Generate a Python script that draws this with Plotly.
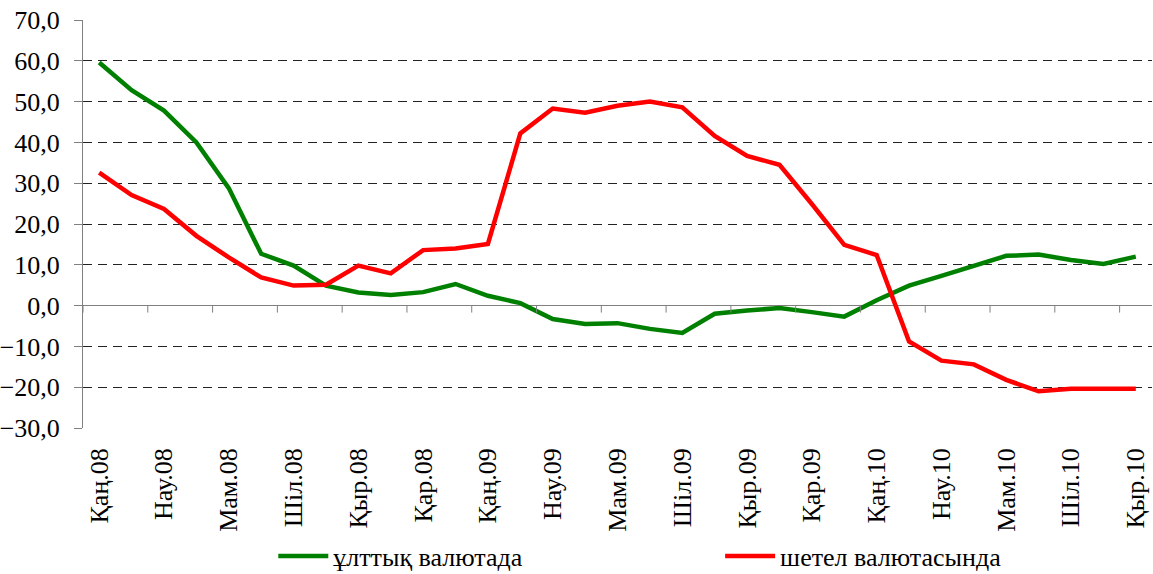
import plotly.graph_objects as go

months = ["Қаң", "Ақп", "Нау", "Сәу", "Мам", "Мау", "Шіл", "Там", "Қыр", "Қаз", "Қар", "Жел"]
categories = []
for yr in ["08", "09", "10"]:
    for m in months:
        categories.append(f"{m}.{yr}")
categories = categories[:33]

national = [59.6, 52.8, 47.8, 40.0, 28.8, 12.7, 9.8, 4.9, 3.2, 2.6, 3.3, 5.3,
            2.4, 0.6, -3.3, -4.5, -4.3, -5.7, -6.7, -2.0, -1.2, -0.6, -1.6, -2.7,
            1.3, 4.9, 7.3, 9.8, 12.2, 12.5, 11.2, 10.2, 12.0]
foreign = [32.6, 27.1, 23.7, 17.1, 11.8, 6.9, 4.9, 5.1, 9.8, 7.9, 13.6, 14.0,
           15.1, 42.2, 48.3, 47.3, 49.0, 50.0, 48.6, 41.6, 36.7, 34.5, 24.9, 14.9,
           12.4, -8.8, -13.5, -14.4, -18.2, -21.0, -20.4, -20.3, -20.4]
series_names = ["ұлттық валютада", "шетел валютасында"]
series_colors = ["#008000", "#FF0000"]

x_idx = list(range(len(categories)))
tick_idx = x_idx[::2]
tick_text = [categories[i] for i in tick_idx]

FONT = "'Liberation Serif', 'Times New Roman', 'DejaVu Serif', serif"
fig = go.Figure()
for k, (name, vals, col) in enumerate(zip(series_names, [national, foreign], series_colors)):
    fig.add_trace(go.Scatter(x=x_idx, y=vals, mode="lines", name=name,
                             line=dict(color=col, width=4.5),
                             legend="legend" if k == 0 else "legend2"))

# tick marks on the zero line (category boundaries)
for b in range(0, len(categories) + 1, 2):
    fig.add_shape(type="line", xref="x", yref="y", x0=b - 0.5, x1=b - 0.5,
                  ysizemode="pixel", yanchor=0, y0=0, y1=-7,
                  line=dict(color="#808080", width=1))

leg_common = dict(orientation="h", xanchor="left", y=-0.314, yanchor="middle",
                  itemwidth=50,
                  font=dict(family=FONT, size=26, color="black"),
                  bgcolor="rgba(0,0,0,0)")
fig.update_layout(
    width=1153, height=574,
    margin=dict(l=83, r=1, t=20, b=146, autoexpand=False),
    paper_bgcolor="white", plot_bgcolor="white",
    separators=", ",
    font=dict(family=FONT, size=26, color="black"),
    showlegend=True,
    legend=dict(x=0.178, **leg_common),
    legend2=dict(x=0.596, **leg_common),
    xaxis=dict(range=[-0.5, len(categories) - 0.5], tickvals=tick_idx, ticktext=tick_text,
               tickangle=-90, showgrid=False, zeroline=False, showline=False,
               ticks="", ticklabelstandoff=14, automargin=False,
               tickfont=dict(family=FONT, size=26)),
    yaxis=dict(range=[-30, 70], dtick=10, tickformat=".1f", showgrid=True,
               gridcolor="#222222", griddash="9px,6px", gridwidth=1,
               zeroline=True, zerolinecolor="#808080", zerolinewidth=1,
               showline=True, linecolor="#808080", linewidth=1,
               ticks="outside", ticklen=8, tickcolor="#808080", automargin=False,
               ticklabelstandoff=9,
               tickfont=dict(family=FONT, size=26)),
)

fig.write_html("out.html", config={"displayModeBar": False},
               post_script="document.body.style.margin='0';document.body.style.overflow='hidden';")
